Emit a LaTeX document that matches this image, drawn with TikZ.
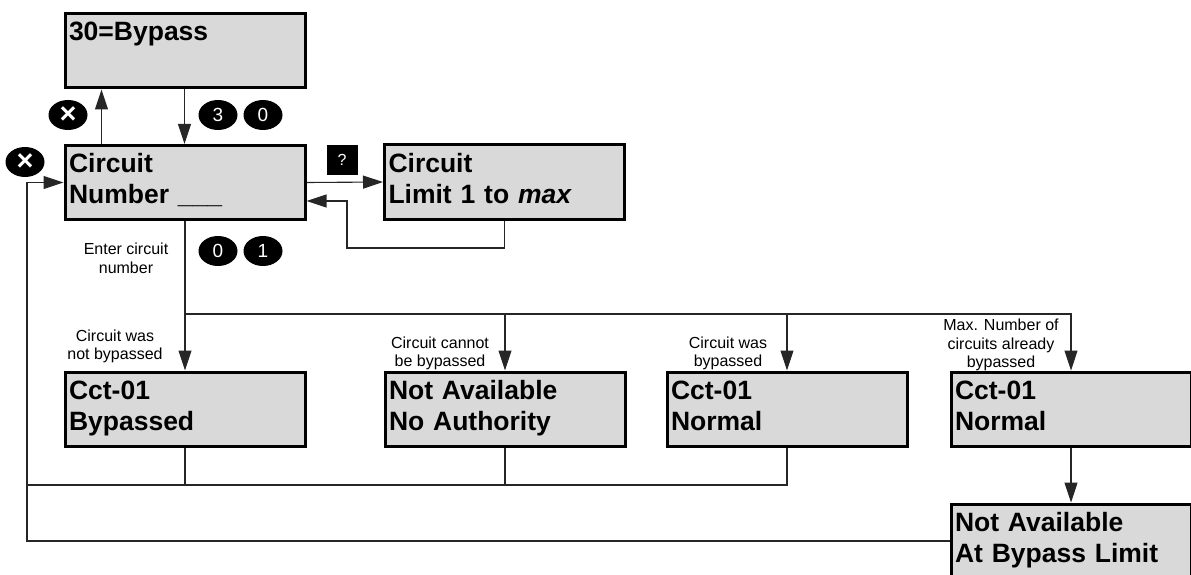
\documentclass[tikz,border=0pt]{standalone}
\usepackage{fontspec}
\setmainfont{Liberation Sans}
\usetikzlibrary{shapes.geometric,arrows.meta}
\definecolor{boxgray}{HTML}{D9D9D9}
\newcommand{\twoline}[2]{\rule{0pt}{19pt}#1\\#2\rule[-8pt]{0pt}{8pt}}
\begin{document}
\begin{tikzpicture}[x=1pt,y=-1pt,
  screen/.style={draw=black, line width=3pt, fill=boxgray, minimum width=240pt, minimum height=74pt, inner sep=0pt, text width=232pt, align=left, font=\bfseries\fontsize{26.5}{31}\selectfont},
  key/.style={ellipse, fill=black, text=white, minimum width=39pt, minimum height=30pt, inner sep=0pt, font=\fontsize{19}{19}\selectfont},
  xkey/.style={key, font=\bfseries\fontsize{29}{29}\selectfont},
  qkey/.style={rectangle, fill=black, text=white, minimum width=31pt, minimum height=30pt, inner sep=0pt, font=\fontsize{16}{16}\selectfont},
  note/.style={align=center, font=\fontsize{16}{18.7}\selectfont, inner sep=0pt},
  conn/.style={draw=black!85, line width=1.1pt},
  arr/.style={conn, -{Triangle[length=20pt,width=13pt]}}]
\clip (0,0) rectangle (1191,575);
\fill[white] (0,0) rectangle (1191,575);

% screens
\node[screen] (A) at (185,51) {\twoline{30=Bypass}{}};
\node[screen] (B) at (185,182.5) {\twoline{Circuit}{Number \_\_\_}};
\node[screen] (C) at (504.5,182) {\twoline{Circuit}{Limit 1 to \textit{max}}};
\node[screen] (D) at (185,409) {\twoline{Cct-01}{Bypassed}};
\node[screen] (E) at (505,409) {\twoline{Not Available}{No Authority}};
\node[screen] (F) at (787,409) {\twoline{Cct-01}{Normal}};
\node[screen] (G) at (1071,409) {\twoline{Cct-01}{Normal}};
\node[screen] (H) at (1071,541) {\twoline{Not Available}{At Bypass Limit}};

% keys
\node[xkey] (x1) at (68,115) {×};
\node[key] (k3) at (218,115) {3};
\node[key] (k0) at (263,115) {0};
\node[xkey] (x2) at (25,162) {×};
\node[key] (n0) at (218,251) {0};
\node[key] (n1) at (263,251) {1};
\node[qkey] (q) at (342,160) {?};

% notes
\node[note] (t1) at (126,258) {Enter circuit\\number};
\node[note] (t2) at (115,346.5) {Circuit was\\not bypassed};
\node[note] (t3) at (440,353.5) {Circuit cannot\\be bypassed};
\node[note] (t4) at (728,353.5) {Circuit was\\bypassed};
\node[note] (t5) at (1001,345) {Max. Number of\\circuits already\\bypassed};

% coordinates
\coordinate (r1) at (347,248);
\coordinate (r2) at (347,201);
\coordinate (j) at (185,314);
\coordinate (k) at (27,485);
\coordinate (m) at (27,182.5);

% connectors
\draw[arr] ([xshift=38pt]B.north west) -- ([xshift=38pt]A.south west);
\draw[arr] ([xshift=121pt]A.south west) -- ([xshift=121pt]B.north west);
\draw[arr] (B.east) -- (C.west);
\draw[arr] (C.south) |- (r1) -- (r2) -- (r2 -| B.east);
\draw[arr] (B.south) -- (D.north);
\draw[arr] (j) -| (G.north);
\draw[arr] (j -| E.north) -- (E.north);
\draw[arr] (j -| F.north) -- (F.north);
\draw[conn] (D.south) -- (D.south |- k);
\draw[conn] (E.south) -- (E.south |- k);
\draw[conn] (F.south) |- (k);
\draw[arr] (H.west) -| (m) -- (B.west);
\draw[arr] (G.south) -- (H.north);
\end{tikzpicture}
\end{document}
